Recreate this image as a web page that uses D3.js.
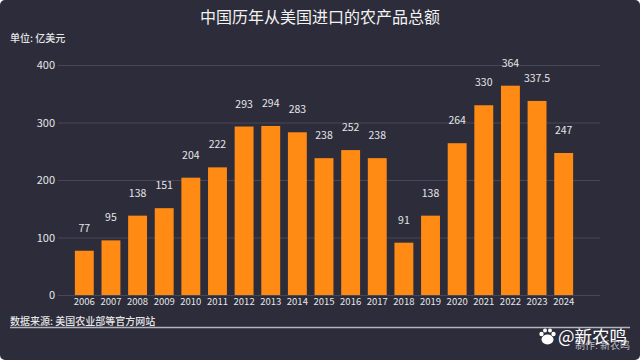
<!DOCTYPE html>
<html>
<head>
<meta charset="utf-8">
<script src="https://cdn.jsdelivr.net/npm/d3@7"></script>
<style>
  html, body { margin: 0; padding: 0; background: #fff; }
  svg { display: block; }
  text { font-family: "Noto Sans CJK SC", "Noto Sans", sans-serif; }
</style>
</head>
<body>
<div id="chart"></div>
<script>
'use strict';

// Data
var years = ["2006","2007","2008","2009","2010","2011","2012","2013","2014","2015","2016","2017","2018","2019","2020","2021","2022","2023","2024"];
var imports = [77,95,138,151,204,222,293,294,283,238,252,238,91,138,264,330,364,337.5,247];
var yTicks = [0,100,200,300,400];

var width = 640, height = 360;
var bg = "#2c2c3b";

var svg = d3.select("#chart").append("svg")
  .attr("width", width)
  .attr("height", height);

svg.append("rect")
  .attr("width", width)
  .attr("height", height)
  .attr("rx", 5)
  .attr("fill", bg);

// scales
var x = d3.scaleBand().domain(years).range([71, 577]).paddingInner(0.29).paddingOuter(0.145);
var y = d3.scaleLinear().domain([0, 400]).range([295, 65]);

// Y axis + gridlines
var yAxis = svg.append("g")
  .attr("transform", "translate(58,0)")
  .call(d3.axisLeft(y).tickValues(yTicks).tickSize(0).tickPadding(3));
yAxis.select(".domain").remove();
yAxis.selectAll("text")
  .attr("fill", "#e6e6e6")
  .style("font-size", "11px");
yAxis.selectAll(".tick").append("line")
  .attr("x1", 0)
  .attr("x2", 542)
  .attr("stroke", "#474757")
  .attr("stroke-width", 1);

// X axis
var xAxis = svg.append("g")
  .attr("transform", "translate(0,295)")
  .call(d3.axisBottom(x).tickSize(0).tickPadding(3));
xAxis.select(".domain").remove();
xAxis.selectAll("text")
  .attr("fill", "#e6e6e6")
  .style("font-size", "9.5px");

// Bars
svg.selectAll(".bar")
  .data(imports)
  .enter().append("rect")
  .attr("class", "bar")
  .attr("x", function(d, i) { return x(years[i]); })
  .attr("y", function(d) { return y(d); })
  .attr("width", x.bandwidth())
  .attr("height", function(d) { return y(0) - y(d); })
  .attr("fill", "#ff8a14");

// Value labels
svg.selectAll(".val")
  .data(imports)
  .enter().append("text")
  .attr("class", "val")
  .attr("x", function(d, i) { return x(years[i]) + x.bandwidth() / 2; })
  .attr("y", function(d) { return y(d) - 19; })
  .attr("text-anchor", "middle")
  .attr("fill", "#e6e6e6")
  .style("font-size", "10.5px")
  .text(function(d) { return d; });

// Title, unit, source
svg.append("text")
  .attr("x", 320).attr("y", 23)
  .attr("text-anchor", "middle")
  .attr("fill", "#f2f2f2")
  .style("font-size", "16px")
  .text("中国历年从美国进口的农产品总额");

svg.append("text")
  .attr("x", 10).attr("y", 42)
  .attr("fill", "#e6e6e6")
  .style("font-size", "10px")
  .style("font-weight", 500)
  .text("单位: 亿美元");

svg.append("text")
  .attr("x", 10).attr("y", 325)
  .attr("fill", "#e6e6e6")
  .style("font-size", "10px")
  .style("font-weight", 500)
  .text("数据来源: 美国农业部等官方网站");

svg.append("line")
  .attr("x1", 10).attr("x2", 630)
  .attr("y1", 327.5).attr("y2", 327.5)
  .attr("stroke", "#b4b4bc")
  .attr("stroke-width", 1.3);

// Credit and watermark
svg.append("text")
  .attr("x", 630).attr("y", 349)
  .attr("text-anchor", "end")
  .attr("fill", "#bdbdc4")
  .style("font-size", "10px")
  .text("制作: 新农鸣");

var mark = svg.append("g").attr("fill", "#fff");
mark.append("ellipse").attr("cx", 547.5).attr("cy", 339.5).attr("rx", 6).attr("ry", 5);
mark.append("circle").attr("cx", 541.5).attr("cy", 334).attr("r", 2.2);
mark.append("circle").attr("cx", 553.5).attr("cy", 334).attr("r", 2.2);
mark.append("circle").attr("cx", 545).attr("cy", 330.5).attr("r", 2);
mark.append("circle").attr("cx", 550).attr("cy", 330.5).attr("r", 2);

svg.append("text")
  .attr("x", 558).attr("y", 343)
  .attr("fill", "#ffffff")
  .style("font-size", "17.5px")
  .text("@新农鸣");
</script>
</body>
</html>
